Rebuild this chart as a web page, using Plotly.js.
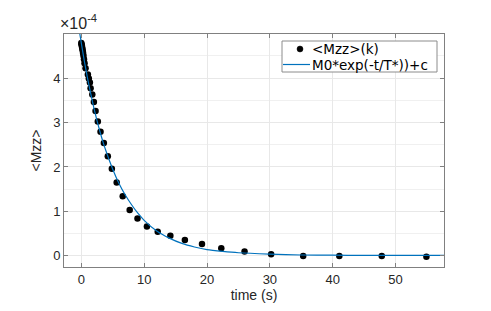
<!DOCTYPE html>
<html>
<head>
<meta charset="utf-8">
<script src="https://cdn.plot.ly/plotly-3.0.1.min.js"></script>
<style>html,body{margin:0;padding:0;background:#fff;}#chart{width:491px;height:311px;}</style>
</head>
<body>
<div id="chart"></div>
<script>
// measured samples <Mzz>(k), in units of 1e-4
const timeS = [0.00, 0.04, 0.08, 0.12, 0.17, 0.22, 0.28, 0.35, 0.43, 0.52, 0.68, 1.05, 1.20, 1.37, 1.48, 1.75, 2.00, 2.27, 2.63, 3.06, 3.59, 4.22, 4.86, 5.63, 6.59, 7.70, 8.94, 10.44, 12.16, 14.17, 16.48, 19.20, 22.27, 25.97, 30.20, 35.30, 41.05, 47.80, 54.90];
const mzz   = [4.79, 4.76, 4.73, 4.70, 4.66, 4.62, 4.56, 4.50, 4.42, 4.33, 4.22, 4.08, 3.99, 3.90, 3.77, 3.63, 3.46, 3.26, 3.02, 2.79, 2.54, 2.24, 1.96, 1.65, 1.34, 1.03, 0.84, 0.66, 0.54, 0.45, 0.355, 0.27, 0.17, 0.097, 0.038, 0.0, 0.0, 0.0, -0.02];
// fitted curve M0*exp(-t/T*)+c (units of 1e-4)
const fitT = [-0.3, 0, 0.5, 1, 1.5, 2, 2.5, 3, 3.5, 4, 5, 6, 7, 8, 9, 10, 12, 14, 16, 18, 20, 22.5, 25, 30, 35, 40, 45, 50, 58];
const fitY = [5.05, 4.79, 4.37, 3.99, 3.65, 3.33, 3.04, 2.78, 2.54, 2.33, 1.95, 1.63, 1.37, 1.15, 0.96, 0.80, 0.56, 0.40, 0.28, 0.20, 0.14, 0.10, 0.07, 0.04, 0.02, 0.015, 0.012, 0.01, 0.01];
const xTicks = [0, 10, 20, 30, 40, 50];
const yTicks = [0, 1, 2, 3, 4];
const xTitle = 'time (s)';
const yTitle = '<Mzz>';
const name1 = '<Mzz>(k)';
const name2 = 'M0*exp(-t/T*))+c';

const esc = s => s.replace(/&/g,'&amp;').replace(/</g,'&lt;').replace(/>/g,'&gt;');
const FONT = 'Liberation Sans, Arial, Helvetica, sans-serif';
const LFONT = 'DejaVu Sans, Liberation Sans, sans-serif';
const TXT = '#262626';
const LINECOL = '#0072BD';

const traces = [
  {x: timeS, y: mzz, type: 'scatter', mode: 'markers', name: esc(name1), showlegend: false,
   marker: {color: '#000000', size: 6.5, symbol: 'circle'}, cliponaxis: true},
  {x: fitT, y: fitY, type: 'scatter', mode: 'lines', name: esc(name2), showlegend: false,
   line: {color: LINECOL, width: 1.2, shape: 'spline', smoothing: 0.6}}
];

// legend box geometry (paper coords of plot area: width 380px, height 233px)
const W = 380, H = 233;
const px = v => (v - 64) / W;
const py = v => (267 - v) / H;

const axCommon = {
  showline: true, mirror: 'ticks', linecolor: '#808080', linewidth: 1,
  ticks: 'inside', ticklen: 4, tickcolor: '#808080', tickwidth: 1,
  gridcolor: '#e8e8e8', gridwidth: 1, zeroline: false,
  tickfont: {family: FONT, size: 13, color: TXT}
};

const layout = {
  width: 491, height: 311,
  margin: {l: 64, r: 47, t: 34, b: 44, pad: 0},
  paper_bgcolor: '#ffffff', plot_bgcolor: '#ffffff',
  font: {family: FONT, color: TXT},
  showlegend: false,
  xaxis: Object.assign({}, axCommon, {
    range: [-2.75, 57.7], tickvals: xTicks, ticktext: xTicks.map(String),
    title: {text: xTitle, font: {family: FONT, size: 14, color: TXT}, standoff: 2}
  }),
  yaxis: Object.assign({}, axCommon, {
    range: [-0.25, 4.99], tickvals: yTicks, ticktext: yTicks.map(String),
    minor: {dtick: 0.5, tick0: 0, showgrid: true, gridcolor: '#f0f0f0', ticks: ''},
    title: {text: esc(yTitle), font: {family: FONT, size: 14, color: TXT}, standoff: 8}
  }),
  shapes: [
    {type: 'rect', xref: 'paper', yref: 'paper', x0: px(282), x1: px(437), y0: py(72), y1: py(41),
     fillcolor: '#ffffff', line: {color: '#8c8c8c', width: 1}, layer: 'above'},
    {type: 'circle', xref: 'paper', yref: 'paper', x0: px(297), x1: px(303), y0: py(52), y1: py(46),
     fillcolor: '#000000', line: {color: '#000000', width: 0.5}, layer: 'above'},
    {type: 'line', xref: 'paper', yref: 'paper', x0: px(283), x1: px(310), y0: py(64.5), y1: py(64.5),
     line: {color: LINECOL, width: 1.2}, layer: 'above'}
  ],
  annotations: [
    {xref: 'paper', yref: 'paper', x: -0.017, y: 1.0, xanchor: 'left', yanchor: 'bottom',
     text: '×10<sup>-4</sup>', showarrow: false, font: {family: FONT, size: 16, color: TXT}},
    {xref: 'paper', yref: 'paper', x: px(311), y: py(49), xanchor: 'left', yanchor: 'middle',
     text: esc(name1), showarrow: false, borderpad: 0, font: {family: LFONT, size: 13.5, color: '#000'}},
    {xref: 'paper', yref: 'paper', x: px(311), y: py(64.5), xanchor: 'left', yanchor: 'middle',
     text: esc(name2), showarrow: false, borderpad: 0, font: {family: LFONT, size: 13.5, color: '#000'}}
  ]
};

Plotly.newPlot('chart', traces, layout, {staticPlot: true, displayModeBar: false});
</script>
</body>
</html>
